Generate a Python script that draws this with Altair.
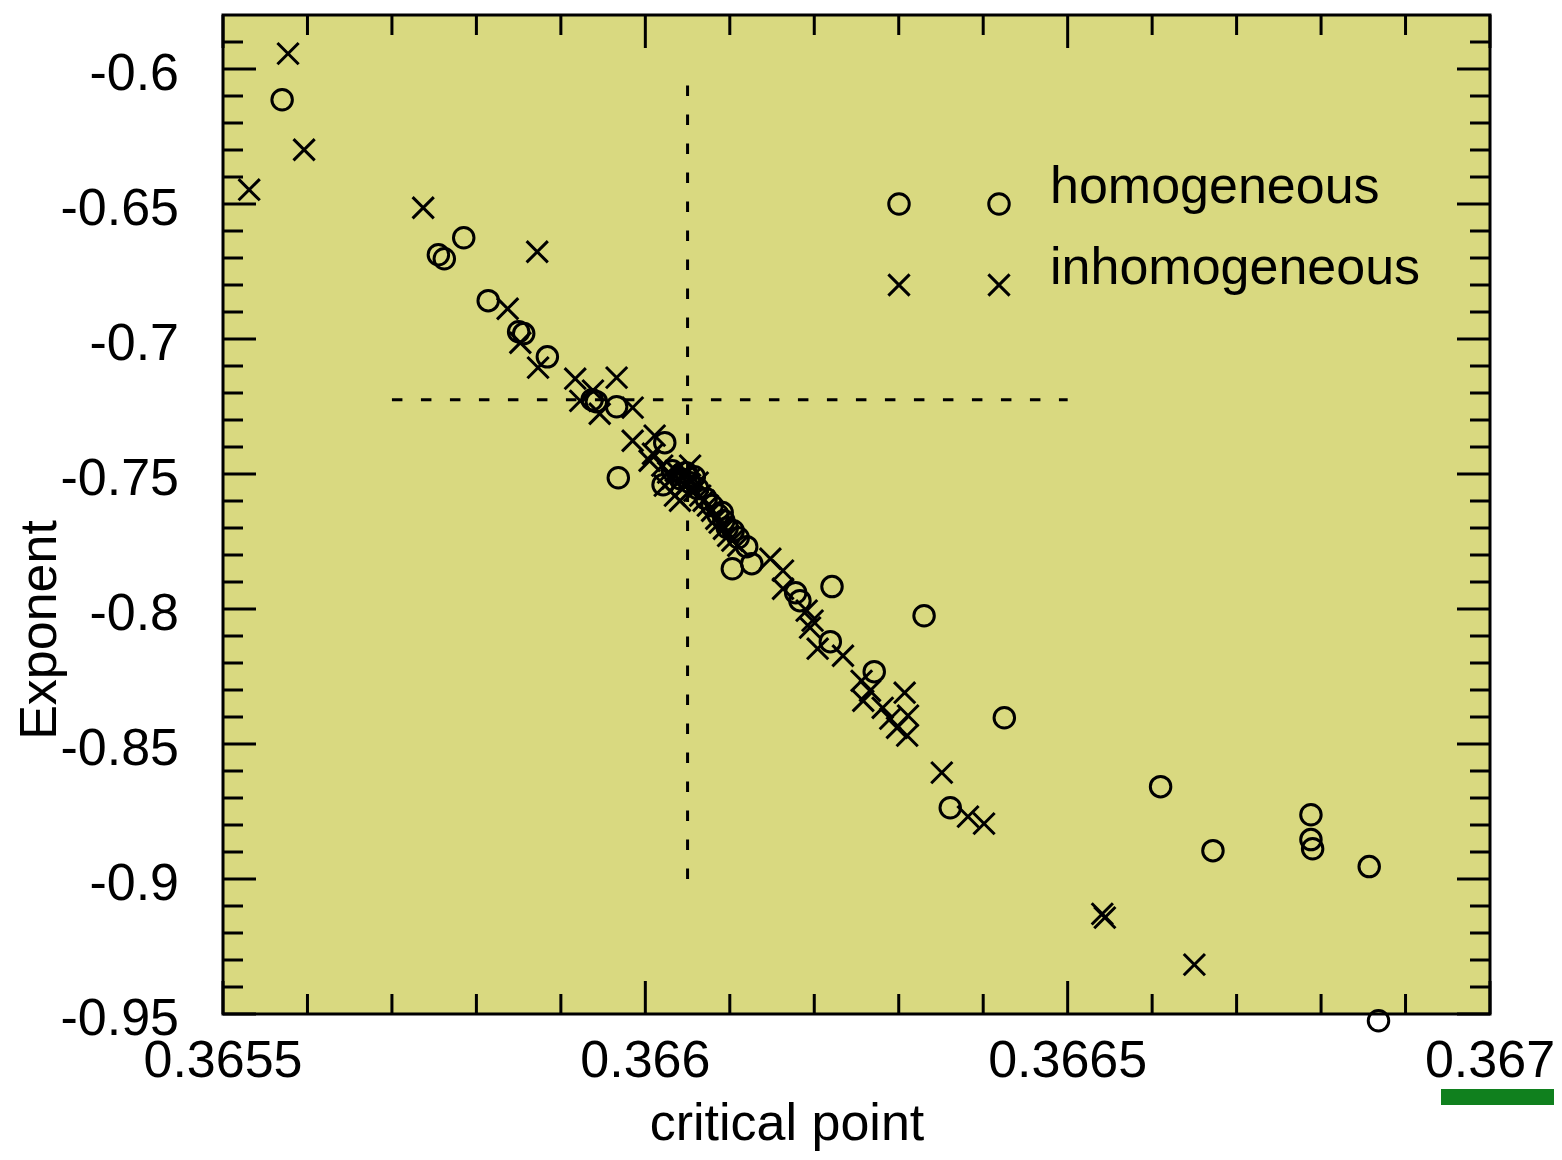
import altair as alt
import pandas as pd

# ---------------- data ----------------
hom_x = [0.36557, 0.365755, 0.365762, 0.365785, 0.365814, 0.36585, 0.365856, 0.365884,
         0.365937, 0.365942, 0.365966, 0.365968, 0.366023, 0.366021,
         0.366032, 0.366041, 0.366048, 0.366053, 0.366058, 0.366062, 0.366072, 0.366079,
         0.366086, 0.366091, 0.366093, 0.366097, 0.366104, 0.36611, 0.36612,
         0.366103, 0.366126, 0.366178, 0.366183, 0.366221, 0.366219, 0.366271, 0.36633,
         0.366425, 0.366361, 0.36661, 0.366672, 0.366788, 0.366788, 0.36679, 0.366857,
         0.366868]
hom_y = [-0.6114, -0.6688, -0.6703, -0.6625, -0.6858, -0.6973, -0.698, -0.7066,
         -0.7225, -0.7232, -0.7251, -0.7514, -0.7384, -0.754,
         -0.7488, -0.7517, -0.7495, -0.7532, -0.751, -0.7554, -0.7592, -0.7617,
         -0.7651, -0.7643, -0.7673, -0.7699, -0.771, -0.7736, -0.7769,
         -0.7851, -0.7832, -0.794, -0.7969, -0.7917, -0.8121, -0.8232, -0.8025,
         -0.8403, -0.8736, -0.8658, -0.8895, -0.8762, -0.8854, -0.8888, -0.8954,
         -0.9525]

inh_x = [0.365577, 0.365596, 0.365531, 0.365737, 0.365872, 0.365837, 0.365852, 0.365873,
         0.365917, 0.365966, 0.365938, 0.365923, 0.365946, 0.365985, 0.365985, 0.366009,
         0.366011, 0.366005, 0.366041,
         0.36602, 0.366027, 0.366032, 0.366036, 0.366041, 0.366046, 0.366048, 0.366053,
         0.366058, 0.366062, 0.366065, 0.366069, 0.366074, 0.366079, 0.366084, 0.366088,
         0.366093, 0.366098, 0.366103, 0.36611, 0.366053, 0.366023, 0.366035,
         0.366148, 0.366163, 0.366163, 0.366191, 0.366198, 0.366195, 0.366204, 0.366234,
         0.366256, 0.366258, 0.366266, 0.366281, 0.366307, 0.36629, 0.366298, 0.366311,
         0.36631, 0.366351, 0.366382, 0.366401, 0.366541, 0.366544, 0.36665]
inh_y = [-0.5943, -0.6299, -0.6447, -0.6514, -0.6677, -0.6888, -0.7014, -0.7106,
         -0.7147, -0.7143, -0.7191, -0.7229, -0.7277, -0.7254, -0.7377, -0.7425,
         -0.7358, -0.7451, -0.7599,
         -0.7469, -0.7495, -0.7517, -0.7488, -0.7525, -0.7506, -0.7543, -0.7517,
         -0.7562, -0.7532, -0.758, -0.7599, -0.7617, -0.7636, -0.7666, -0.768,
         -0.7703, -0.7729, -0.7747, -0.7766, -0.7469, -0.7543, -0.758,
         -0.7814, -0.7858, -0.7925, -0.8006, -0.8043, -0.8069, -0.8147, -0.8173,
         -0.8266, -0.834, -0.8303, -0.8366, -0.831, -0.8406, -0.844, -0.8395,
         -0.8469, -0.8606, -0.8769, -0.8795, -0.9129, -0.9143, -0.9317]

series_names = ["homogeneous", "inhomogeneous"]
x_title = "critical point"
y_title = "Exponent"

# reference lines
vline_x = [0.36605]
vline_y = [-0.9]
vline_y2 = [-0.6]
hline_y = [-0.7225]
hline_x = [0.3657]
hline_x2 = [0.3665]

# axis ticks and their labels
x_major = [0.3655, 0.366, 0.3665, 0.367]
x_labels = ["0.3655", "0.366", "0.3665", "0.367"]
x_minor = [0.3656, 0.3657, 0.3658, 0.3659, 0.3661, 0.3662, 0.3663, 0.3664,
           0.3666, 0.3667, 0.3668, 0.3669]
y_major = [-0.95, -0.9, -0.85, -0.8, -0.75, -0.7, -0.65, -0.6]
y_labels = ["-0.95", "-0.9", "-0.85", "-0.8", "-0.75", "-0.7", "-0.65", "-0.6"]
y_minor = [-0.94, -0.93, -0.92, -0.91, -0.89, -0.88, -0.87, -0.86, -0.84, -0.83,
           -0.82, -0.81, -0.79, -0.78, -0.77, -0.76, -0.74, -0.73, -0.72, -0.71,
           -0.69, -0.68, -0.67, -0.66, -0.64, -0.63, -0.62, -0.61, -0.59]

# ---------------- layout / style ----------------
W, H = 1267, 999
FONT = "Liberation Sans"
BG = "#d9d980"
X_PATH = "M-1,-1L1,1M-1,1L1,-1"
MAJ, MIN = 33, 20
SW = 3

xscale = alt.Scale(domain=[0.3655, 0.367], nice=False, zero=False)
yscale = alt.Scale(domain=[-0.95, -0.58], nice=False, zero=False)


def X(field):
    return alt.X(field, type="quantitative", scale=xscale, axis=None)


def Y(field):
    return alt.Y(field, type="quantitative", scale=yscale, axis=None)


hom = pd.DataFrame({"x": hom_x, "y": hom_y})
inh = pd.DataFrame({"x": inh_x, "y": inh_y})

circles = alt.Chart(hom).mark_point(
    shape="circle", size=420, filled=False, stroke="black", strokeWidth=SW, opacity=1
).encode(x=X("x"), y=Y("y"))

crosses = alt.Chart(inh).mark_point(
    shape=X_PATH, size=450, filled=False, stroke="black", strokeWidth=SW, opacity=1
).encode(x=X("x"), y=Y("y"))

vline = alt.Chart(pd.DataFrame({"x": vline_x, "y": vline_y, "y2": vline_y2})).mark_rule(
    color="black", strokeWidth=3, strokeDash=[10.5, 18.5]
).encode(x=X("x"), y=Y("y"), y2="y2:Q")

hline = alt.Chart(pd.DataFrame({"y": hline_y, "x": hline_x, "x2": hline_x2})).mark_rule(
    color="black", strokeWidth=3, strokeDash=[10.5, 18.5]
).encode(y=Y("y"), x=X("x"), x2="x2:Q")

# inward ticks on all four sides
tick_layers = []
for vals, L in ((y_major, MAJ), (y_minor, MIN)):
    d = pd.DataFrame({"v": vals})
    tick_layers.append(alt.Chart(d).mark_rule(color="black", strokeWidth=3).encode(
        y=Y("v"), x=alt.value(0), x2=alt.value(L)))
    tick_layers.append(alt.Chart(d).mark_rule(color="black", strokeWidth=3).encode(
        y=Y("v"), x=alt.value(W - L), x2=alt.value(W)))
for vals, L in ((x_major, MAJ), (x_minor, MIN)):
    d = pd.DataFrame({"v": vals})
    tick_layers.append(alt.Chart(d).mark_rule(color="black", strokeWidth=3).encode(
        x=X("v"), y=alt.value(0), y2=alt.value(L)))
    tick_layers.append(alt.Chart(d).mark_rule(color="black", strokeWidth=3).encode(
        x=X("v"), y=alt.value(H - L), y2=alt.value(H)))

# tick labels (placed through the scales)
xlab = alt.Chart(pd.DataFrame({"v": x_major, "t": x_labels})).mark_text(
    font=FONT, fontSize=52, align="center", baseline="alphabetic", color="black"
).encode(x=X("v"), y=alt.value(H + 63), text="t:N")
ylab = alt.Chart(pd.DataFrame({"v": y_major, "t": y_labels})).mark_text(
    font=FONT, fontSize=52, align="right", baseline="alphabetic", color="black", dy=21
).encode(y=Y("v"), x=alt.value(-44), text="t:N")

one = alt.Data(values=[{}])
xtitle = alt.Chart(one).mark_text(
    text=x_title, font=FONT, fontSize=52, align="center", baseline="alphabetic", color="black"
).encode(x=alt.value(564), y=alt.value(1125))
ytitle = alt.Chart(one).mark_text(
    text=y_title, font=FONT, fontSize=52, align="center", baseline="alphabetic",
    color="black", angle=270
).encode(x=alt.value(-167), y=alt.value(615))

# in-plot legend (two sample symbols per row, as in the original)
legend_layers = []
for lx in (676, 776):
    legend_layers.append(alt.Chart(one).mark_point(
        shape="circle", size=420, filled=False, stroke="black", strokeWidth=SW, opacity=1
    ).encode(x=alt.value(lx), y=alt.value(189)))
    legend_layers.append(alt.Chart(one).mark_point(
        shape=X_PATH, size=450, filled=False, stroke="black", strokeWidth=SW, opacity=1
    ).encode(x=alt.value(lx), y=alt.value(270)))
for name, ty in zip(series_names, (188, 269)):
    legend_layers.append(alt.Chart(one).mark_text(
        text=name, font=FONT, fontSize=52, align="left", baseline="alphabetic", color="black"
    ).encode(x=alt.value(827), y=alt.value(ty)))

# green bar below the right end of the x axis (runs to the right edge)
green = alt.Chart(one).mark_rect(color="#10801e").encode(
    x=alt.value(1218), x2=alt.value(1331), y=alt.value(1074), y2=alt.value(1090))

chart = alt.layer(
    vline, hline, *tick_layers, crosses, circles, *legend_layers,
    xlab, ylab, xtitle, ytitle, green
).properties(
    width=W, height=H,
    padding={"left": 215, "top": 7, "right": 64, "bottom": 138},
    autosize=alt.AutoSizeParams(type="none"),
).configure_view(fill=BG, stroke="black", strokeWidth=3)

chart.save("out.html", embed_options={"renderer": "svg", "actions": False})
